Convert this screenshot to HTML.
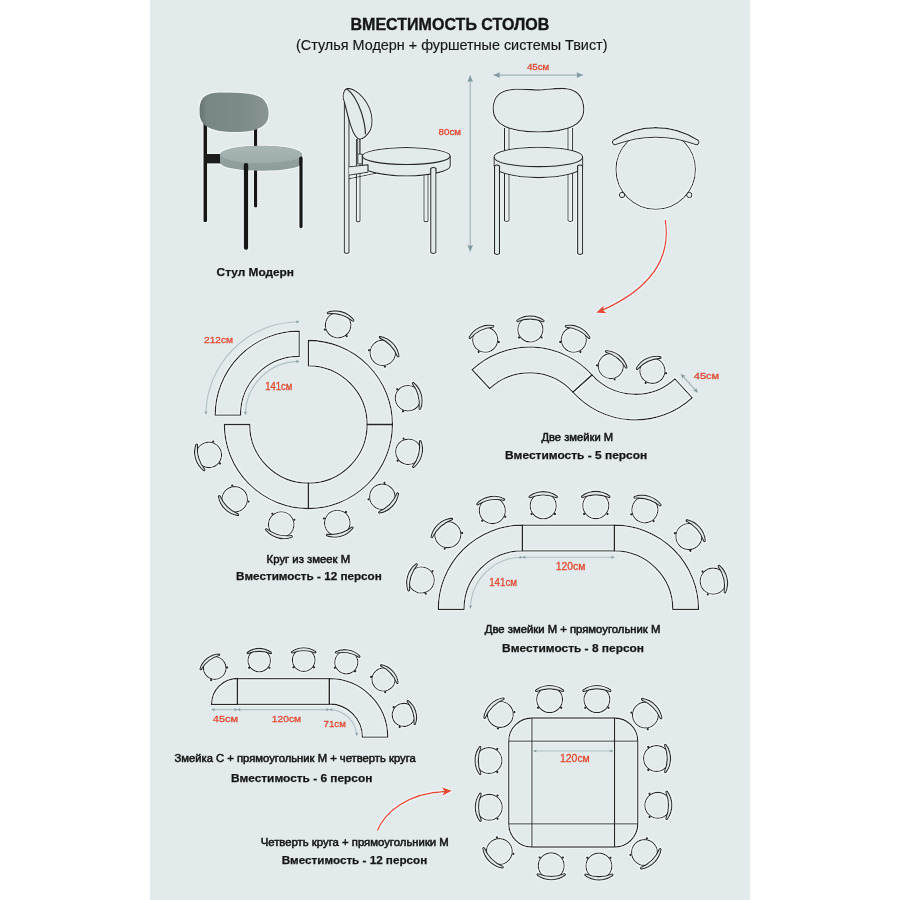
<!DOCTYPE html>
<html><head><meta charset="utf-8"><style>
html,body{margin:0;padding:0;background:#ffffff;width:900px;height:900px;overflow:hidden}
svg{display:block;font-family:"Liberation Sans", sans-serif}
</style></head><body>
<svg width="900" height="900" viewBox="0 0 900 900">
<rect x="150" y="0" width="600" height="900" fill="#e3eaec"/>
<defs><filter id="halo" x="0" y="0" width="900" height="900" filterUnits="userSpaceOnUse"><feMorphology in="SourceAlpha" operator="dilate" radius="0.9" result="d"/><feFlood flood-color="#eff4f5" result="fl"/><feComposite in="fl" in2="d" operator="in" result="h"/><feMerge><feMergeNode in="h"/><feMergeNode in="SourceGraphic"/></feMerge></filter></defs>
<g filter="url(#halo)">
<g>
<defs>
<linearGradient id="gback" x1="0" y1="0" x2="1" y2="0">
<stop offset="0" stop-color="#66726f"/><stop offset="0.1" stop-color="#788684"/><stop offset="0.6" stop-color="#7c8a88"/><stop offset="1" stop-color="#889593"/></linearGradient>
<linearGradient id="gseat" x1="0" y1="0" x2="0" y2="1">
<stop offset="0" stop-color="#a8b6b6"/><stop offset="1" stop-color="#9eacac"/></linearGradient>
<linearGradient id="gside" x1="0" y1="0" x2="0" y2="1">
<stop offset="0" stop-color="#98a6a6"/><stop offset="1" stop-color="#8d9b9b"/></linearGradient>
</defs>
<rect x="203.3" y="118" width="3.8" height="104" rx="1" fill="#161818"/>
<rect x="254" y="128" width="3.2" height="79.5" rx="1" fill="#161818"/>
<rect x="205" y="154" width="16" height="9.6" fill="#1b1d1d"/>
<path d="M199.5,112 C199.5,98 204,92.5 222,92.5 C245,92.5 258,93.5 264,100 C268,105 269,110 268.5,116 C267.5,126 258,131.5 240,132 C225,132.5 213,131 206,126 C201,122 199.5,118 199.5,112 Z" fill="url(#gback)"/>
<path d="M220,155 C220,149 240,145.8 261,145.8 C284,145.8 302.3,149 302.3,155 L302.3,162 C302.3,168 284,170.7 261,170.7 C240,170.7 220,168 220,162 Z" fill="url(#gside)"/>
<ellipse cx="261.1" cy="154.5" rx="41" ry="8.6" fill="url(#gseat)"/>
<rect x="243.8" y="163" width="4.4" height="87" rx="2" fill="#161818"/>
<rect x="299.2" y="156.6" width="3.6" height="71.8" rx="1.8" fill="#161818"/>
</g>
<g fill="none" stroke="#262626" stroke-width="1.1" stroke-linejoin="round">
<path d="M344.3,102 L344.3,252.5 Q346.7,254.5 349.1,252.5 L349.1,104" fill="#e3eaec"/>
<path d="M356.4,139 L356.4,221 Q358.2,222.5 360,221 L360,139"/>
<path d="M424,169 L424,221 Q426,222.5 428,221 L428,169"/>
<path d="M406.3,147.5 C382,147.5 362.3,151.5 362.3,156 L362.3,166 C362.3,171 382,176 406.3,176 C431,176 450.3,171 450.3,166 L450.3,156 C450.3,151.5 431,147.5 406.3,147.5 Z" fill="#e3eaec"/>
<path d="M362.3,156 C362.3,161 382,164.5 406.3,164.5 C431,164.5 450.3,161 450.3,156"/>
<path d="M349.1,166.7 L368,164.7 L368,172.3 L349.1,175.3" fill="#e3eaec"/>
<path d="M349.1,178.7 L376,173.3"/>
<path d="M357.7,154 L362.3,154 L362.3,164 L357.7,164 Z" fill="#e3eaec"/>
<path d="M357.7,139 L357.7,154 M359.9,139 L359.9,154"/>
<path d="M430.7,168.5 L430.7,252.5 Q433.3,254.5 436,252.5 L436,168.5 Q433.3,166.5 430.7,168.5 Z" fill="#e3eaec"/>
<path d="M344.3,102 C343,99 342.8,94 344.5,90.5 C346,88 350,88 354,90 C360,93.5 366,100 369.5,108 C372.5,115 373,124 370.5,130 C368,135 363,139.2 359.9,139.2 C356,139 353,133 350.5,125 C348,117 346,108 344.3,102 Z" fill="#e3eaec"/>
<path d="M346.6,89 C352,92 358,102 361.6,113 C364,121 365.5,128 365.4,134.2"/>
</g>
<g fill="none" stroke="#262626" stroke-width="1.1" stroke-linejoin="round">
<path d="M504.5,128 L504.5,220.5 Q506.7,222.5 509,220.5 L509,128"/>
<path d="M568,128 L568,220.5 Q570.3,222.5 572.6,220.5 L572.6,128"/>
<path d="M493.1,109 C493.1,96 500,89.8 515,89.3 C528,88.9 532,89.9 538.4,89.9 C545,89.9 550,88.5 562,88.4 C577,88.5 583.8,96 583.8,110 C583.8,126 565,132 538.4,132 C512,132 493.1,126 493.1,109 Z" fill="#e3eaec"/>
<path d="M538.5,147.3 C513,147.3 494,151.5 494,157 L494,166 C494,172 513,177.6 538.5,177.6 C564,177.6 582.7,172 582.7,166 L582.7,157 C582.7,151.5 564,147.3 538.5,147.3 Z" fill="#e3eaec"/>
<path d="M494,157 C494,163 513,166.6 538.5,166.6 C564,166.6 582.7,163 582.7,157"/>
<path d="M494.5,166 L494.5,253.5 Q497,255.5 499.5,253.5 L499.5,166 Q497,164 494.5,166 Z" fill="#e3eaec"/>
<path d="M577.6,166 L577.6,253.5 Q580.1,255.5 582.6,253.5 L582.6,166 Q580.1,164 577.6,166 Z" fill="#e3eaec"/>
</g>
<circle cx="655.7" cy="169.6" r="39.7" fill="none" stroke="#262626" stroke-width="1.1"/>
<circle cx="622" cy="195" r="2.7" fill="#e3eaec" stroke="#262626" stroke-width="1"/>
<circle cx="689.3" cy="195" r="2.7" fill="#e3eaec" stroke="#262626" stroke-width="1"/>
<path transform="translate(655.7,169.6)" d="M-42.48,-29.38 A78.19,78.19 0 0 1 42.48,-29.38 A2.64,2.64 0 0 1 39.7,-25.01 A113.85,113.85 0 0 0 -39.7,-25.01 A2.64,2.64 0 0 1 -42.48,-29.38 Z" fill="#e3eaec" stroke="#262626" stroke-width="1.1"/>
<path d="M665.3,220 C670,250 660,285 600.5,311" fill="none" stroke="#e24b32" stroke-width="1.4"/>
<path d="M596,312.7 L603.96,305.33 L603.05,310.13 L606.83,313.23 Z" fill="#e24b32"/>
<path d="M308.4,340.5 A84,84 0 0 1 392.4,424.5 L367.1,424.5 A58.7,58.7 0 0 0 308.4,365.8 Z" fill="none" stroke="#262626" stroke-width="1.3" stroke-linejoin="miter"/>
<path d="M392.4,424.5 A84,84 0 0 1 308.4,508.5 L308.4,483.2 A58.7,58.7 0 0 0 367.1,424.5 Z" fill="none" stroke="#262626" stroke-width="1.3" stroke-linejoin="miter"/>
<path d="M308.4,508.5 A84,84 0 0 1 224.4,424.5 L249.7,424.5 A58.7,58.7 0 0 0 308.4,483.2 Z" fill="none" stroke="#262626" stroke-width="1.3" stroke-linejoin="miter"/>
<path d="M215.2,415.1 A84,84 0 0 1 299.2,331.1 L299.2,356.4 A58.7,58.7 0 0 0 240.5,415.1 Z" fill="none" stroke="#262626" stroke-width="1.3" stroke-linejoin="miter"/>
<g transform="translate(338.1,325.1) rotate(16.64)"><circle r="12.7" fill="none" stroke="#262626" stroke-width="1.15"/><circle cx="-11.43" cy="8.13" r="1.25" fill="#262626"/><circle cx="11.43" cy="8.13" r="1.25" fill="#262626"/><path d="M-13.72,-9.4 A23.38,23.38 0 0 1 13.72,-9.4 A0.91,0.91 0 0 1 12.7,-7.94 A33.8,33.8 0 0 0 -12.7,-7.94 A0.91,0.91 0 0 1 -13.72,-9.4 Z" fill="#e3eaec" stroke="#262626" stroke-width="1.15"/></g>
<g transform="translate(382.8,352.8) rotate(46.06)"><circle r="12.7" fill="none" stroke="#262626" stroke-width="1.15"/><circle cx="-11.43" cy="8.13" r="1.25" fill="#262626"/><circle cx="11.43" cy="8.13" r="1.25" fill="#262626"/><path d="M-13.72,-9.4 A23.38,23.38 0 0 1 13.72,-9.4 A0.91,0.91 0 0 1 12.7,-7.94 A33.8,33.8 0 0 0 -12.7,-7.94 A0.91,0.91 0 0 1 -13.72,-9.4 Z" fill="#e3eaec" stroke="#262626" stroke-width="1.15"/></g>
<g transform="translate(408,398.2) rotate(75.21)"><circle r="12.7" fill="none" stroke="#262626" stroke-width="1.15"/><circle cx="-11.43" cy="8.13" r="1.25" fill="#262626"/><circle cx="11.43" cy="8.13" r="1.25" fill="#262626"/><path d="M-13.72,-9.4 A23.38,23.38 0 0 1 13.72,-9.4 A0.91,0.91 0 0 1 12.7,-7.94 A33.8,33.8 0 0 0 -12.7,-7.94 A0.91,0.91 0 0 1 -13.72,-9.4 Z" fill="#e3eaec" stroke="#262626" stroke-width="1.15"/></g>
<g transform="translate(408.4,451.8) rotate(105.27)"><circle r="12.7" fill="none" stroke="#262626" stroke-width="1.15"/><circle cx="-11.43" cy="8.13" r="1.25" fill="#262626"/><circle cx="11.43" cy="8.13" r="1.25" fill="#262626"/><path d="M-13.72,-9.4 A23.38,23.38 0 0 1 13.72,-9.4 A0.91,0.91 0 0 1 12.7,-7.94 A33.8,33.8 0 0 0 -12.7,-7.94 A0.91,0.91 0 0 1 -13.72,-9.4 Z" fill="#e3eaec" stroke="#262626" stroke-width="1.15"/></g>
<g transform="translate(382.3,496.8) rotate(134.37)"><circle r="12.7" fill="none" stroke="#262626" stroke-width="1.15"/><circle cx="-11.43" cy="8.13" r="1.25" fill="#262626"/><circle cx="11.43" cy="8.13" r="1.25" fill="#262626"/><path d="M-13.72,-9.4 A23.38,23.38 0 0 1 13.72,-9.4 A0.91,0.91 0 0 1 12.7,-7.94 A33.8,33.8 0 0 0 -12.7,-7.94 A0.91,0.91 0 0 1 -13.72,-9.4 Z" fill="#e3eaec" stroke="#262626" stroke-width="1.15"/></g>
<g transform="translate(337.3,523) rotate(163.65)"><circle r="12.7" fill="none" stroke="#262626" stroke-width="1.15"/><circle cx="-11.43" cy="8.13" r="1.25" fill="#262626"/><circle cx="11.43" cy="8.13" r="1.25" fill="#262626"/><path d="M-13.72,-9.4 A23.38,23.38 0 0 1 13.72,-9.4 A0.91,0.91 0 0 1 12.7,-7.94 A33.8,33.8 0 0 0 -12.7,-7.94 A0.91,0.91 0 0 1 -13.72,-9.4 Z" fill="#e3eaec" stroke="#262626" stroke-width="1.15"/></g>
<g transform="translate(281.2,524.5) rotate(195.22)"><circle r="12.7" fill="none" stroke="#262626" stroke-width="1.15"/><circle cx="-11.43" cy="8.13" r="1.25" fill="#262626"/><circle cx="11.43" cy="8.13" r="1.25" fill="#262626"/><path d="M-13.72,-9.4 A23.38,23.38 0 0 1 13.72,-9.4 A0.91,0.91 0 0 1 12.7,-7.94 A33.8,33.8 0 0 0 -12.7,-7.94 A0.91,0.91 0 0 1 -13.72,-9.4 Z" fill="#e3eaec" stroke="#262626" stroke-width="1.15"/></g>
<g transform="translate(234.7,499.3) rotate(224.58)"><circle r="12.7" fill="none" stroke="#262626" stroke-width="1.15"/><circle cx="-11.43" cy="8.13" r="1.25" fill="#262626"/><circle cx="11.43" cy="8.13" r="1.25" fill="#262626"/><path d="M-13.72,-9.4 A23.38,23.38 0 0 1 13.72,-9.4 A0.91,0.91 0 0 1 12.7,-7.94 A33.8,33.8 0 0 0 -12.7,-7.94 A0.91,0.91 0 0 1 -13.72,-9.4 Z" fill="#e3eaec" stroke="#262626" stroke-width="1.15"/></g>
<g transform="translate(208.8,454.9) rotate(253.03)"><circle r="12.7" fill="none" stroke="#262626" stroke-width="1.15"/><circle cx="-11.43" cy="8.13" r="1.25" fill="#262626"/><circle cx="11.43" cy="8.13" r="1.25" fill="#262626"/><path d="M-13.72,-9.4 A23.38,23.38 0 0 1 13.72,-9.4 A0.91,0.91 0 0 1 12.7,-7.94 A33.8,33.8 0 0 0 -12.7,-7.94 A0.91,0.91 0 0 1 -13.72,-9.4 Z" fill="#e3eaec" stroke="#262626" stroke-width="1.15"/></g>
<path d="M472.14,369.69 A84.1,84.1 0 0 1 592,374.93 L572.9,392.12 A58.4,58.4 0 0 0 489.67,388.49 Z" fill="none" stroke="#262626" stroke-width="1.3" stroke-linejoin="miter"/>
<path d="M692.22,397.85 A84.1,84.1 0 0 1 572.9,392.12 L592,374.93 A58.4,58.4 0 0 0 674.85,378.91 Z" fill="none" stroke="#262626" stroke-width="1.3" stroke-linejoin="miter"/>
<g transform="translate(485.22,339.72) rotate(-26)"><circle r="12.5" fill="none" stroke="#262626" stroke-width="1.15"/><circle cx="-11.25" cy="8" r="1.25" fill="#262626"/><circle cx="11.25" cy="8" r="1.25" fill="#262626"/><path d="M-13.5,-9.25 A23.02,23.02 0 0 1 13.5,-9.25 A0.89,0.89 0 0 1 12.5,-7.81 A33.27,33.27 0 0 0 -12.5,-7.81 A0.89,0.89 0 0 1 -13.5,-9.25 Z" fill="#e3eaec" stroke="#262626" stroke-width="1.15"/></g>
<g transform="translate(530.38,329.5) rotate(0.5)"><circle r="12.5" fill="none" stroke="#262626" stroke-width="1.15"/><circle cx="-11.25" cy="8" r="1.25" fill="#262626"/><circle cx="11.25" cy="8" r="1.25" fill="#262626"/><path d="M-13.5,-9.25 A23.02,23.02 0 0 1 13.5,-9.25 A0.89,0.89 0 0 1 12.5,-7.81 A33.27,33.27 0 0 0 -12.5,-7.81 A0.89,0.89 0 0 1 -13.5,-9.25 Z" fill="#e3eaec" stroke="#262626" stroke-width="1.15"/></g>
<g transform="translate(573.78,339.72) rotate(26)"><circle r="12.5" fill="none" stroke="#262626" stroke-width="1.15"/><circle cx="-11.25" cy="8" r="1.25" fill="#262626"/><circle cx="11.25" cy="8" r="1.25" fill="#262626"/><path d="M-13.5,-9.25 A23.02,23.02 0 0 1 13.5,-9.25 A0.89,0.89 0 0 1 12.5,-7.81 A33.27,33.27 0 0 0 -12.5,-7.81 A0.89,0.89 0 0 1 -13.5,-9.25 Z" fill="#e3eaec" stroke="#262626" stroke-width="1.15"/></g>
<g transform="translate(610.81,366.11) rotate(38.5)"><circle r="12.5" fill="none" stroke="#262626" stroke-width="1.15"/><circle cx="-11.25" cy="8" r="1.25" fill="#262626"/><circle cx="11.25" cy="8" r="1.25" fill="#262626"/><path d="M-13.5,-9.25 A23.02,23.02 0 0 1 13.5,-9.25 A0.89,0.89 0 0 1 12.5,-7.81 A33.27,33.27 0 0 0 -12.5,-7.81 A0.89,0.89 0 0 1 -13.5,-9.25 Z" fill="#e3eaec" stroke="#262626" stroke-width="1.15"/></g>
<g transform="translate(652.41,370.85) rotate(-25.5)"><circle r="12.5" fill="none" stroke="#262626" stroke-width="1.15"/><circle cx="-11.25" cy="8" r="1.25" fill="#262626"/><circle cx="11.25" cy="8" r="1.25" fill="#262626"/><path d="M-13.5,-9.25 A23.02,23.02 0 0 1 13.5,-9.25 A0.89,0.89 0 0 1 12.5,-7.81 A33.27,33.27 0 0 0 -12.5,-7.81 A0.89,0.89 0 0 1 -13.5,-9.25 Z" fill="#e3eaec" stroke="#262626" stroke-width="1.15"/></g>
<path d="M438.3,609.3 A84.1,84.1 0 0 1 522.4,525.2 L522.4,550.9 A58.4,58.4 0 0 0 464,609.3 Z" fill="none" stroke="#262626" stroke-width="1.3" stroke-linejoin="miter"/>
<rect x="522.4" y="525.2" width="92" height="25.7" fill="none" stroke="#262626" stroke-width="1.3"/>
<path d="M614.4,525.2 A84.1,84.1 0 0 1 698.5,609.3 L672.8,609.3 A58.4,58.4 0 0 0 614.4,550.9 Z" fill="none" stroke="#262626" stroke-width="1.3" stroke-linejoin="miter"/>
<g transform="translate(421.2,580) rotate(-73)"><circle r="13" fill="none" stroke="#262626" stroke-width="1.15"/><circle cx="-11.7" cy="8.32" r="1.25" fill="#262626"/><circle cx="11.7" cy="8.32" r="1.25" fill="#262626"/><path d="M-14.04,-9.62 A23.94,23.94 0 0 1 14.04,-9.62 A0.93,0.93 0 0 1 13,-8.12 A34.6,34.6 0 0 0 -13,-8.12 A0.93,0.93 0 0 1 -14.04,-9.62 Z" fill="#e3eaec" stroke="#262626" stroke-width="1.15"/></g>
<g transform="translate(447.8,534.6) rotate(-42)"><circle r="13" fill="none" stroke="#262626" stroke-width="1.15"/><circle cx="-11.7" cy="8.32" r="1.25" fill="#262626"/><circle cx="11.7" cy="8.32" r="1.25" fill="#262626"/><path d="M-14.04,-9.62 A23.94,23.94 0 0 1 14.04,-9.62 A0.93,0.93 0 0 1 13,-8.12 A34.6,34.6 0 0 0 -13,-8.12 A0.93,0.93 0 0 1 -14.04,-9.62 Z" fill="#e3eaec" stroke="#262626" stroke-width="1.15"/></g>
<g transform="translate(492.3,510.6) rotate(-10)"><circle r="13" fill="none" stroke="#262626" stroke-width="1.15"/><circle cx="-11.7" cy="8.32" r="1.25" fill="#262626"/><circle cx="11.7" cy="8.32" r="1.25" fill="#262626"/><path d="M-14.04,-9.62 A23.94,23.94 0 0 1 14.04,-9.62 A0.93,0.93 0 0 1 13,-8.12 A34.6,34.6 0 0 0 -13,-8.12 A0.93,0.93 0 0 1 -14.04,-9.62 Z" fill="#e3eaec" stroke="#262626" stroke-width="1.15"/></g>
<g transform="translate(543.2,505.8) rotate(0)"><circle r="13" fill="none" stroke="#262626" stroke-width="1.15"/><circle cx="-11.7" cy="8.32" r="1.25" fill="#262626"/><circle cx="11.7" cy="8.32" r="1.25" fill="#262626"/><path d="M-14.04,-9.62 A23.94,23.94 0 0 1 14.04,-9.62 A0.93,0.93 0 0 1 13,-8.12 A34.6,34.6 0 0 0 -13,-8.12 A0.93,0.93 0 0 1 -14.04,-9.62 Z" fill="#e3eaec" stroke="#262626" stroke-width="1.15"/></g>
<g transform="translate(595.8,505.6) rotate(0)"><circle r="13" fill="none" stroke="#262626" stroke-width="1.15"/><circle cx="-11.7" cy="8.32" r="1.25" fill="#262626"/><circle cx="11.7" cy="8.32" r="1.25" fill="#262626"/><path d="M-14.04,-9.62 A23.94,23.94 0 0 1 14.04,-9.62 A0.93,0.93 0 0 1 13,-8.12 A34.6,34.6 0 0 0 -13,-8.12 A0.93,0.93 0 0 1 -14.04,-9.62 Z" fill="#e3eaec" stroke="#262626" stroke-width="1.15"/></g>
<g transform="translate(644.9,509.8) rotate(17)"><circle r="13" fill="none" stroke="#262626" stroke-width="1.15"/><circle cx="-11.7" cy="8.32" r="1.25" fill="#262626"/><circle cx="11.7" cy="8.32" r="1.25" fill="#262626"/><path d="M-14.04,-9.62 A23.94,23.94 0 0 1 14.04,-9.62 A0.93,0.93 0 0 1 13,-8.12 A34.6,34.6 0 0 0 -13,-8.12 A0.93,0.93 0 0 1 -14.04,-9.62 Z" fill="#e3eaec" stroke="#262626" stroke-width="1.15"/></g>
<g transform="translate(688.9,536.5) rotate(49)"><circle r="13" fill="none" stroke="#262626" stroke-width="1.15"/><circle cx="-11.7" cy="8.32" r="1.25" fill="#262626"/><circle cx="11.7" cy="8.32" r="1.25" fill="#262626"/><path d="M-14.04,-9.62 A23.94,23.94 0 0 1 14.04,-9.62 A0.93,0.93 0 0 1 13,-8.12 A34.6,34.6 0 0 0 -13,-8.12 A0.93,0.93 0 0 1 -14.04,-9.62 Z" fill="#e3eaec" stroke="#262626" stroke-width="1.15"/></g>
<g transform="translate(713.2,581.1) rotate(77)"><circle r="13" fill="none" stroke="#262626" stroke-width="1.15"/><circle cx="-11.7" cy="8.32" r="1.25" fill="#262626"/><circle cx="11.7" cy="8.32" r="1.25" fill="#262626"/><path d="M-14.04,-9.62 A23.94,23.94 0 0 1 14.04,-9.62 A0.93,0.93 0 0 1 13,-8.12 A34.6,34.6 0 0 0 -13,-8.12 A0.93,0.93 0 0 1 -14.04,-9.62 Z" fill="#e3eaec" stroke="#262626" stroke-width="1.15"/></g>
<path d="M211.6,704.3 A25.8,25.8 0 0 1 237.4,678.5 L237.4,704.3 Z" fill="none" stroke="#262626" stroke-width="1.3" stroke-linejoin="miter"/>
<rect x="237.4" y="678.7" width="91.9" height="25.6" fill="none" stroke="#262626" stroke-width="1.3"/>
<path d="M329.3,678.7 A58.4,58.4 0 0 1 387.7,737.1 L362.4,737.1 A33.1,33.1 0 0 0 329.3,704 Z" fill="none" stroke="#262626" stroke-width="1.3" stroke-linejoin="miter"/>
<g transform="translate(214.7,668) rotate(-38)"><circle r="11.3" fill="none" stroke="#262626" stroke-width="1.15"/><circle cx="-10.17" cy="7.23" r="1.25" fill="#262626"/><circle cx="10.17" cy="7.23" r="1.25" fill="#262626"/><path d="M-12.2,-8.36 A20.81,20.81 0 0 1 12.2,-8.36 A0.81,0.81 0 0 1 11.3,-7.06 A30.08,30.08 0 0 0 -11.3,-7.06 A0.81,0.81 0 0 1 -12.2,-8.36 Z" fill="#e3eaec" stroke="#262626" stroke-width="1.15"/></g>
<g transform="translate(259.2,660.6) rotate(0)"><circle r="11.2" fill="none" stroke="#262626" stroke-width="1.15"/><circle cx="-10.08" cy="7.17" r="1.25" fill="#262626"/><circle cx="10.08" cy="7.17" r="1.25" fill="#262626"/><path d="M-12.1,-8.29 A20.62,20.62 0 0 1 12.1,-8.29 A0.8,0.8 0 0 1 11.2,-7 A29.81,29.81 0 0 0 -11.2,-7 A0.8,0.8 0 0 1 -12.1,-8.29 Z" fill="#e3eaec" stroke="#262626" stroke-width="1.15"/></g>
<g transform="translate(303.7,660.1) rotate(0)"><circle r="11.3" fill="none" stroke="#262626" stroke-width="1.15"/><circle cx="-10.17" cy="7.23" r="1.25" fill="#262626"/><circle cx="10.17" cy="7.23" r="1.25" fill="#262626"/><path d="M-12.2,-8.36 A20.81,20.81 0 0 1 12.2,-8.36 A0.81,0.81 0 0 1 11.3,-7.06 A30.08,30.08 0 0 0 -11.3,-7.06 A0.81,0.81 0 0 1 -12.2,-8.36 Z" fill="#e3eaec" stroke="#262626" stroke-width="1.15"/></g>
<g transform="translate(346.3,662.3) rotate(10)"><circle r="11.5" fill="none" stroke="#262626" stroke-width="1.15"/><circle cx="-10.35" cy="7.36" r="1.25" fill="#262626"/><circle cx="10.35" cy="7.36" r="1.25" fill="#262626"/><path d="M-12.42,-8.51 A21.17,21.17 0 0 1 12.42,-8.51 A0.82,0.82 0 0 1 11.5,-7.19 A30.61,30.61 0 0 0 -11.5,-7.19 A0.82,0.82 0 0 1 -12.42,-8.51 Z" fill="#e3eaec" stroke="#262626" stroke-width="1.15"/></g>
<g transform="translate(383.5,679.5) rotate(47)"><circle r="11.5" fill="none" stroke="#262626" stroke-width="1.15"/><circle cx="-10.35" cy="7.36" r="1.25" fill="#262626"/><circle cx="10.35" cy="7.36" r="1.25" fill="#262626"/><path d="M-12.42,-8.51 A21.17,21.17 0 0 1 12.42,-8.51 A0.82,0.82 0 0 1 11.5,-7.19 A30.61,30.61 0 0 0 -11.5,-7.19 A0.82,0.82 0 0 1 -12.42,-8.51 Z" fill="#e3eaec" stroke="#262626" stroke-width="1.15"/></g>
<g transform="translate(403.7,714.9) rotate(73)"><circle r="11.5" fill="none" stroke="#262626" stroke-width="1.15"/><circle cx="-10.35" cy="7.36" r="1.25" fill="#262626"/><circle cx="10.35" cy="7.36" r="1.25" fill="#262626"/><path d="M-12.42,-8.51 A21.17,21.17 0 0 1 12.42,-8.51 A0.82,0.82 0 0 1 11.5,-7.19 A30.61,30.61 0 0 0 -11.5,-7.19 A0.82,0.82 0 0 1 -12.42,-8.51 Z" fill="#e3eaec" stroke="#262626" stroke-width="1.15"/></g>
<rect x="508.75" y="718" width="129" height="129" rx="23.2" ry="23.2" fill="none" stroke="#262626" stroke-width="1.3"/>
<line x1="531.95" y1="718" x2="531.95" y2="847" stroke="#262626" stroke-width="1.3"/>
<line x1="614.55" y1="718" x2="614.55" y2="847" stroke="#262626" stroke-width="1.3"/>
<line x1="508.75" y1="741.2" x2="637.75" y2="741.2" stroke="#262626" stroke-width="1.3"/>
<line x1="508.75" y1="823.8" x2="637.75" y2="823.8" stroke="#262626" stroke-width="1.3"/>
<g transform="translate(549.6,699.6) rotate(0)"><circle r="12.9" fill="none" stroke="#262626" stroke-width="1.15"/><circle cx="-11.61" cy="8.26" r="1.25" fill="#262626"/><circle cx="11.61" cy="8.26" r="1.25" fill="#262626"/><path d="M-13.93,-9.55 A23.75,23.75 0 0 1 13.93,-9.55 A0.92,0.92 0 0 1 12.9,-8.06 A34.33,34.33 0 0 0 -12.9,-8.06 A0.92,0.92 0 0 1 -13.93,-9.55 Z" fill="#e3eaec" stroke="#262626" stroke-width="1.15"/></g>
<g transform="translate(596.9,699.6) rotate(0)"><circle r="12.9" fill="none" stroke="#262626" stroke-width="1.15"/><circle cx="-11.61" cy="8.26" r="1.25" fill="#262626"/><circle cx="11.61" cy="8.26" r="1.25" fill="#262626"/><path d="M-13.93,-9.55 A23.75,23.75 0 0 1 13.93,-9.55 A0.92,0.92 0 0 1 12.9,-8.06 A34.33,34.33 0 0 0 -12.9,-8.06 A0.92,0.92 0 0 1 -13.93,-9.55 Z" fill="#e3eaec" stroke="#262626" stroke-width="1.15"/></g>
<g transform="translate(500.3,714.4) rotate(-45)"><circle r="12.9" fill="none" stroke="#262626" stroke-width="1.15"/><circle cx="-11.61" cy="8.26" r="1.25" fill="#262626"/><circle cx="11.61" cy="8.26" r="1.25" fill="#262626"/><path d="M-13.93,-9.55 A23.75,23.75 0 0 1 13.93,-9.55 A0.92,0.92 0 0 1 12.9,-8.06 A34.33,34.33 0 0 0 -12.9,-8.06 A0.92,0.92 0 0 1 -13.93,-9.55 Z" fill="#e3eaec" stroke="#262626" stroke-width="1.15"/></g>
<g transform="translate(645.4,715) rotate(45)"><circle r="12.9" fill="none" stroke="#262626" stroke-width="1.15"/><circle cx="-11.61" cy="8.26" r="1.25" fill="#262626"/><circle cx="11.61" cy="8.26" r="1.25" fill="#262626"/><path d="M-13.93,-9.55 A23.75,23.75 0 0 1 13.93,-9.55 A0.92,0.92 0 0 1 12.9,-8.06 A34.33,34.33 0 0 0 -12.9,-8.06 A0.92,0.92 0 0 1 -13.93,-9.55 Z" fill="#e3eaec" stroke="#262626" stroke-width="1.15"/></g>
<g transform="translate(489,760.5) rotate(-90)"><circle r="12.9" fill="none" stroke="#262626" stroke-width="1.15"/><circle cx="-11.61" cy="8.26" r="1.25" fill="#262626"/><circle cx="11.61" cy="8.26" r="1.25" fill="#262626"/><path d="M-13.93,-9.55 A23.75,23.75 0 0 1 13.93,-9.55 A0.92,0.92 0 0 1 12.9,-8.06 A34.33,34.33 0 0 0 -12.9,-8.06 A0.92,0.92 0 0 1 -13.93,-9.55 Z" fill="#e3eaec" stroke="#262626" stroke-width="1.15"/></g>
<g transform="translate(489.3,807.2) rotate(-90)"><circle r="12.9" fill="none" stroke="#262626" stroke-width="1.15"/><circle cx="-11.61" cy="8.26" r="1.25" fill="#262626"/><circle cx="11.61" cy="8.26" r="1.25" fill="#262626"/><path d="M-13.93,-9.55 A23.75,23.75 0 0 1 13.93,-9.55 A0.92,0.92 0 0 1 12.9,-8.06 A34.33,34.33 0 0 0 -12.9,-8.06 A0.92,0.92 0 0 1 -13.93,-9.55 Z" fill="#e3eaec" stroke="#262626" stroke-width="1.15"/></g>
<g transform="translate(656.5,758.5) rotate(90)"><circle r="12.9" fill="none" stroke="#262626" stroke-width="1.15"/><circle cx="-11.61" cy="8.26" r="1.25" fill="#262626"/><circle cx="11.61" cy="8.26" r="1.25" fill="#262626"/><path d="M-13.93,-9.55 A23.75,23.75 0 0 1 13.93,-9.55 A0.92,0.92 0 0 1 12.9,-8.06 A34.33,34.33 0 0 0 -12.9,-8.06 A0.92,0.92 0 0 1 -13.93,-9.55 Z" fill="#e3eaec" stroke="#262626" stroke-width="1.15"/></g>
<g transform="translate(657.8,805.3) rotate(90)"><circle r="12.9" fill="none" stroke="#262626" stroke-width="1.15"/><circle cx="-11.61" cy="8.26" r="1.25" fill="#262626"/><circle cx="11.61" cy="8.26" r="1.25" fill="#262626"/><path d="M-13.93,-9.55 A23.75,23.75 0 0 1 13.93,-9.55 A0.92,0.92 0 0 1 12.9,-8.06 A34.33,34.33 0 0 0 -12.9,-8.06 A0.92,0.92 0 0 1 -13.93,-9.55 Z" fill="#e3eaec" stroke="#262626" stroke-width="1.15"/></g>
<g transform="translate(499.3,851.5) rotate(-135)"><circle r="12.9" fill="none" stroke="#262626" stroke-width="1.15"/><circle cx="-11.61" cy="8.26" r="1.25" fill="#262626"/><circle cx="11.61" cy="8.26" r="1.25" fill="#262626"/><path d="M-13.93,-9.55 A23.75,23.75 0 0 1 13.93,-9.55 A0.92,0.92 0 0 1 12.9,-8.06 A34.33,34.33 0 0 0 -12.9,-8.06 A0.92,0.92 0 0 1 -13.93,-9.55 Z" fill="#e3eaec" stroke="#262626" stroke-width="1.15"/></g>
<g transform="translate(644.5,852.5) rotate(135)"><circle r="12.9" fill="none" stroke="#262626" stroke-width="1.15"/><circle cx="-11.61" cy="8.26" r="1.25" fill="#262626"/><circle cx="11.61" cy="8.26" r="1.25" fill="#262626"/><path d="M-13.93,-9.55 A23.75,23.75 0 0 1 13.93,-9.55 A0.92,0.92 0 0 1 12.9,-8.06 A34.33,34.33 0 0 0 -12.9,-8.06 A0.92,0.92 0 0 1 -13.93,-9.55 Z" fill="#e3eaec" stroke="#262626" stroke-width="1.15"/></g>
<g transform="translate(551.2,865.7) rotate(180)"><circle r="12.9" fill="none" stroke="#262626" stroke-width="1.15"/><circle cx="-11.61" cy="8.26" r="1.25" fill="#262626"/><circle cx="11.61" cy="8.26" r="1.25" fill="#262626"/><path d="M-13.93,-9.55 A23.75,23.75 0 0 1 13.93,-9.55 A0.92,0.92 0 0 1 12.9,-8.06 A34.33,34.33 0 0 0 -12.9,-8.06 A0.92,0.92 0 0 1 -13.93,-9.55 Z" fill="#e3eaec" stroke="#262626" stroke-width="1.15"/></g>
<g transform="translate(598.9,866) rotate(180)"><circle r="12.9" fill="none" stroke="#262626" stroke-width="1.15"/><circle cx="-11.61" cy="8.26" r="1.25" fill="#262626"/><circle cx="11.61" cy="8.26" r="1.25" fill="#262626"/><path d="M-13.93,-9.55 A23.75,23.75 0 0 1 13.93,-9.55 A0.92,0.92 0 0 1 12.9,-8.06 A34.33,34.33 0 0 0 -12.9,-8.06 A0.92,0.92 0 0 1 -13.93,-9.55 Z" fill="#e3eaec" stroke="#262626" stroke-width="1.15"/></g>
<path d="M377.3,830.8 C385,812 408,793 445,791.5" fill="none" stroke="#e24b32" stroke-width="1.4"/>
<path d="M452,790.8 L442.32,795.69 L444.52,791.32 L441.73,787.31 Z" fill="#e24b32"/>
</g>
<line x1="470.2" y1="75.6" x2="470.2" y2="251.5" stroke="#9fb2b6" stroke-width="1.1"/>
<path d="M470.2,251.5 L467.4,245.3 L470.2,245.8 L473,245.3 Z" fill="#7f9ba1"/>
<path d="M470.2,75.6 L473,81.8 L470.2,81.3 L467.4,81.8 Z" fill="#7f9ba1"/>
<line x1="493.6" y1="75.1" x2="582.9" y2="75.1" stroke="#9fb2b6" stroke-width="1.1"/>
<path d="M582.9,75.1 L576.7,77.9 L577.2,75.1 L576.7,72.3 Z" fill="#7f9ba1"/>
<path d="M493.6,75.1 L499.8,72.3 L499.3,75.1 L499.8,77.9 Z" fill="#7f9ba1"/>
<path d="M205.9,414.29 A93.3,93.3 0 0 1 299.2,321.8" fill="none" stroke="#b0c1c4" stroke-width="1.1"/>
<path d="M299.2,321.8 L296,323.4 L296.8,321.8 L296,320.2 Z" fill="#7f9ba1"/>
<path d="M205.9,414.29 L204.33,411.07 L205.92,411.89 L207.53,411.1 Z" fill="#7f9ba1"/>
<path d="M245.5,414.63 A53.7,53.7 0 0 1 299.2,361.4" fill="none" stroke="#b0c1c4" stroke-width="1.1"/>
<path d="M299.2,361.4 L296,363 L296.8,361.4 L296,359.8 Z" fill="#7f9ba1"/>
<path d="M245.5,414.63 L243.93,411.42 L245.52,412.23 L247.13,411.45 Z" fill="#7f9ba1"/>
<line x1="681.1" y1="374.2" x2="697.6" y2="392.4" stroke="#9fb2b6" stroke-width="1.1"/>
<path d="M697.6,392.4 L692.95,390.54 L695.33,389.9 L696.21,387.59 Z" fill="#7f9ba1"/>
<path d="M681.1,374.2 L685.75,376.06 L683.37,376.7 L682.49,379.01 Z" fill="#7f9ba1"/>
<line x1="522.4" y1="557.3" x2="614.4" y2="557.3" stroke="#b0c1c4" stroke-width="1.1"/>
<path d="M614.4,557.3 L611.2,558.9 L612,557.3 L611.2,555.7 Z" fill="#7f9ba1"/>
<path d="M522.4,557.3 L525.6,555.7 L524.8,557.3 L525.6,558.9 Z" fill="#7f9ba1"/>
<path d="M522.4,557.3 A52,52 0 0 0 470.41,608.39" fill="none" stroke="#b0c1c4" stroke-width="1.1"/>
<path d="M470.41,608.39 L468.86,605.17 L470.45,605.99 L472.06,605.22 Z" fill="#7f9ba1"/>
<path d="M522.4,557.3 L519.2,558.9 L520,557.3 L519.2,555.7 Z" fill="#7f9ba1"/>
<line x1="211.6" y1="709.6" x2="237.4" y2="709.6" stroke="#b0c1c4" stroke-width="1.1"/>
<path d="M237.4,709.6 L234.2,711.2 L235,709.6 L234.2,708 Z" fill="#7f9ba1"/>
<path d="M211.6,709.6 L214.8,708 L214,709.6 L214.8,711.2 Z" fill="#7f9ba1"/>
<line x1="237.4" y1="709.6" x2="329.3" y2="709.6" stroke="#b0c1c4" stroke-width="1.1"/>
<path d="M329.3,709.6 L326.1,711.2 L326.9,709.6 L326.1,708 Z" fill="#7f9ba1"/>
<path d="M237.4,709.6 L240.6,708 L239.8,709.6 L240.6,711.2 Z" fill="#7f9ba1"/>
<path d="M329.3,709.6 A27.5,27.5 0 0 1 356.76,735.66" fill="none" stroke="#b0c1c4" stroke-width="1.1"/>
<path d="M356.76,735.66 L355,732.55 L356.64,733.26 L358.19,732.38 Z" fill="#7f9ba1"/>
<path d="M329.3,709.6 L332.5,708 L331.7,709.6 L332.5,711.2 Z" fill="#7f9ba1"/>
<line x1="533.45" y1="751" x2="613.05" y2="751" stroke="#b0c1c4" stroke-width="1.1"/>
<path d="M613.05,751 L609.85,752.6 L610.65,751 L609.85,749.4 Z" fill="#7f9ba1"/>
<path d="M533.45,751 L536.65,749.4 L535.85,751 L536.65,752.6 Z" fill="#7f9ba1"/>
<text x="350.5" y="29.5" font-size="15.8" font-weight="bold" fill="#161616" stroke="#161616" stroke-width="0.35" textLength="198.8" lengthAdjust="spacingAndGlyphs" >ВМЕСТИМОСТЬ СТОЛОВ</text>
<text x="296" y="49.7" font-size="14.2" font-weight="normal" fill="#161616" stroke="#161616" stroke-width="0.15" textLength="311.5" lengthAdjust="spacingAndGlyphs" >(Стулья Модерн + фуршетные системы Твист)</text>
<text x="216.6" y="275.6" font-size="11.6" font-weight="bold" fill="#161616" stroke="#161616" stroke-width="0.25" textLength="77.4" lengthAdjust="spacingAndGlyphs" >Стул Модерн</text>
<text x="438.5" y="134.8" font-size="8.9" font-weight="normal" fill="#e24b32" stroke="#e24b32" stroke-width="0.3" textLength="22.6" lengthAdjust="spacingAndGlyphs" >80см</text>
<text x="527" y="69.8" font-size="8.6" font-weight="normal" fill="#e24b32" stroke="#e24b32" stroke-width="0.3" textLength="22.2" lengthAdjust="spacingAndGlyphs" >45см</text>
<text x="204" y="343.4" font-size="9.8" font-weight="normal" fill="#e24b32" stroke="#e24b32" stroke-width="0.3" textLength="29.1" lengthAdjust="spacingAndGlyphs" >212см</text>
<text x="265.2" y="389.7" font-size="10" font-weight="normal" fill="#e24b32" stroke="#e24b32" stroke-width="0.3" textLength="27.1" lengthAdjust="spacingAndGlyphs" >141см</text>
<text x="266.6" y="562.9" font-size="10.4" font-weight="normal" fill="#161616" stroke="#161616" stroke-width="0.5" textLength="83.6" lengthAdjust="spacingAndGlyphs" >Круг из змеек М</text>
<text x="236" y="580.2" font-size="11.8" font-weight="bold" fill="#161616" stroke="#161616" stroke-width="0.25" textLength="145.8" lengthAdjust="spacingAndGlyphs" >Вместимость - 12 персон</text>
<text x="693.8" y="379" font-size="9.5" font-weight="normal" fill="#e24b32" stroke="#e24b32" stroke-width="0.3" textLength="25.3" lengthAdjust="spacingAndGlyphs" >45см</text>
<text x="541.4" y="441.2" font-size="10.4" font-weight="normal" fill="#161616" stroke="#161616" stroke-width="0.5" textLength="71.8" lengthAdjust="spacingAndGlyphs" >Две змейки М</text>
<text x="505" y="459.4" font-size="11.8" font-weight="bold" fill="#161616" stroke="#161616" stroke-width="0.25" textLength="142.2" lengthAdjust="spacingAndGlyphs" >Вместимость - 5 персон</text>
<text x="555.8" y="569.6" font-size="10" font-weight="normal" fill="#e24b32" stroke="#e24b32" stroke-width="0.3" textLength="29.6" lengthAdjust="spacingAndGlyphs" >120см</text>
<text x="489.2" y="586" font-size="10" font-weight="normal" fill="#e24b32" stroke="#e24b32" stroke-width="0.3" textLength="27.8" lengthAdjust="spacingAndGlyphs" >141см</text>
<text x="484.8" y="632.8" font-size="10.4" font-weight="normal" fill="#161616" stroke="#161616" stroke-width="0.5" textLength="175.5" lengthAdjust="spacingAndGlyphs" >Две змейки М + прямоугольник М</text>
<text x="502.1" y="652" font-size="11.8" font-weight="bold" fill="#161616" stroke="#161616" stroke-width="0.25" textLength="141.9" lengthAdjust="spacingAndGlyphs" >Вместимость - 8 персон</text>
<text x="212.8" y="722.1" font-size="9.6" font-weight="normal" fill="#e24b32" stroke="#e24b32" stroke-width="0.3" textLength="25.3" lengthAdjust="spacingAndGlyphs" >45см</text>
<text x="271.8" y="722.3" font-size="9.8" font-weight="normal" fill="#e24b32" stroke="#e24b32" stroke-width="0.3" textLength="29.4" lengthAdjust="spacingAndGlyphs" >120см</text>
<text x="323.6" y="727.1" font-size="9.6" font-weight="normal" fill="#e24b32" stroke="#e24b32" stroke-width="0.3" textLength="22.3" lengthAdjust="spacingAndGlyphs" >71см</text>
<text x="174.4" y="762" font-size="10.4" font-weight="normal" fill="#161616" stroke="#161616" stroke-width="0.5" textLength="241.4" lengthAdjust="spacingAndGlyphs" >Змейка С + прямоугольник М + четверть круга</text>
<text x="230.9" y="782.3" font-size="11.8" font-weight="bold" fill="#161616" stroke="#161616" stroke-width="0.25" textLength="141.5" lengthAdjust="spacingAndGlyphs" >Вместимость - 6 персон</text>
<text x="560" y="761.6" font-size="10" font-weight="normal" fill="#e24b32" stroke="#e24b32" stroke-width="0.3" textLength="29.8" lengthAdjust="spacingAndGlyphs" >120см</text>
<text x="260.7" y="846" font-size="10.4" font-weight="normal" fill="#161616" stroke="#161616" stroke-width="0.5" textLength="188.1" lengthAdjust="spacingAndGlyphs" >Четверть круга + прямоугольники М</text>
<text x="281.7" y="864.1" font-size="11.8" font-weight="bold" fill="#161616" stroke="#161616" stroke-width="0.25" textLength="145.5" lengthAdjust="spacingAndGlyphs" >Вместимость - 12 персон</text>
</svg></body></html>
